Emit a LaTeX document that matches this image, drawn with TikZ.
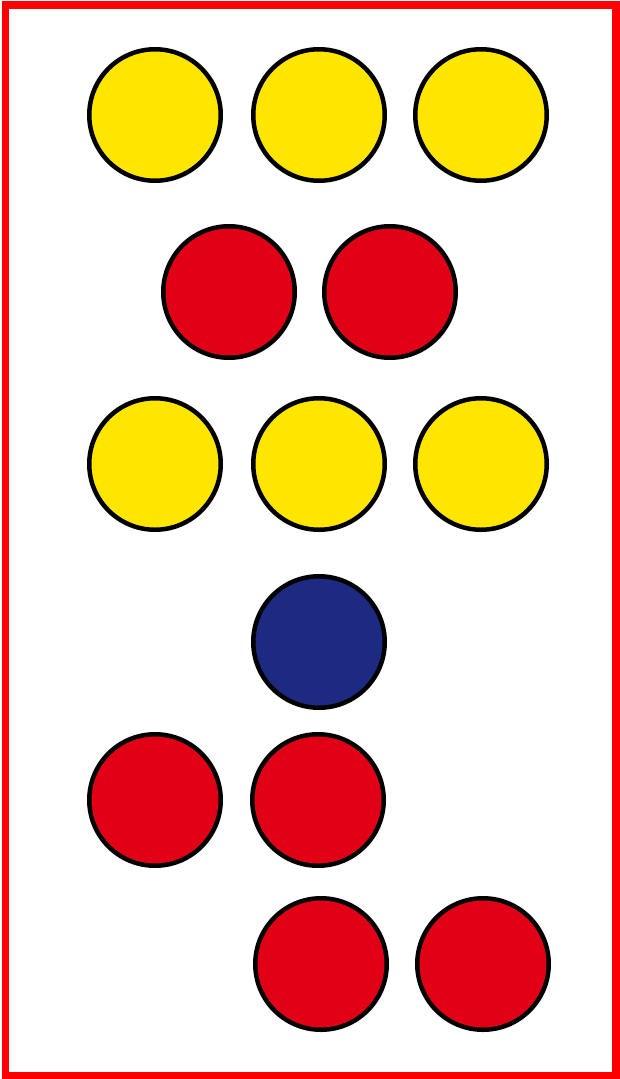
\documentclass[tikz,border=0pt]{standalone}
\usepackage{tikz}

\definecolor{discyellow}{RGB}{255,230,0}
\definecolor{discred}{RGB}{226,0,22}
\definecolor{discblue}{RGB}{28,42,130}
\definecolor{framered}{RGB}{255,0,0}

\tikzset{
  disc/.style={circle, draw=black, line width=4.5pt, minimum size=131.5pt, inner sep=0pt},
  yellowdisc/.style={disc, fill=discyellow},
  reddisc/.style={disc, fill=discred},
  bluedisc/.style={disc, fill=discblue},
}

\begin{document}
\begin{tikzpicture}[x=1pt, y=-1pt]
  \useasboundingbox (0,0) rectangle (619,1079);
  \draw[framered, line width=7.5pt] (5.5,5) rectangle (616,1075.5);

  \node[yellowdisc] (y1) at (155,115) {};
  \node[yellowdisc] (y2) at (319,115) {};
  \node[yellowdisc] (y3) at (481,115) {};

  \node[reddisc] (r1) at (229,292) {};
  \node[reddisc] (r2) at (390,292) {};

  \node[yellowdisc] (y4) at (155,464) {};
  \node[yellowdisc] (y5) at (319,464) {};
  \node[yellowdisc] (y6) at (481,464) {};

  \node[bluedisc] (b1) at (319,642) {};

  \node[reddisc] (r3) at (155,800) {};
  \node[reddisc] (r4) at (318,800) {};

  \node[reddisc] (r5) at (321,964) {};
  \node[reddisc] (r6) at (483,964) {};
\end{tikzpicture}
\end{document}
